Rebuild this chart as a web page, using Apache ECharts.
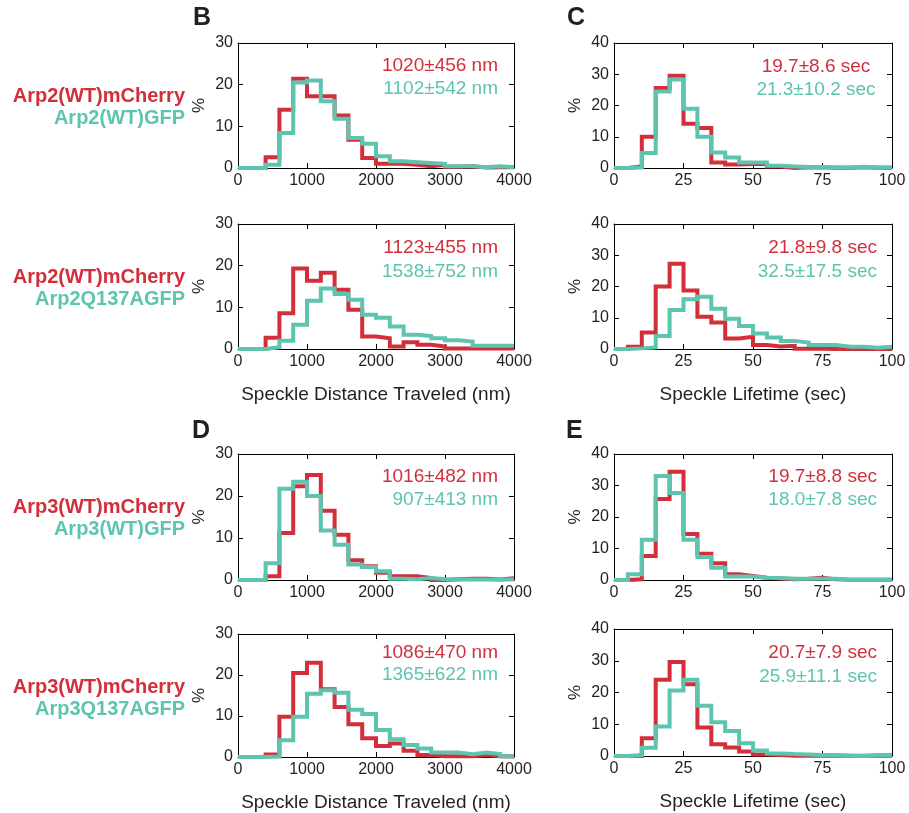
<!DOCTYPE html>
<html>
<head>
<meta charset="utf-8">
<script src="https://cdn.jsdelivr.net/npm/echarts@6/dist/echarts.min.js"></script>
<style>
html,body{margin:0;padding:0;background:#fff;}
#chart{width:909px;height:813px;}
</style>
</head>
<body>
<div id="chart"></div>
<script>
// ---------- data ----------
const distBinStarts = [0,200,400,600,800,1000,1200,1400,1600,1800,2000,2200,2400,2600,2800,3000,3200,3400,3600,3800];
const distEnd = 4000;
const lifeBinStarts = [0,5,10,15,20,25,30,35,40,45,50,55,60,65,70,75,80,85,90,95];
const lifeEnd = 100;
const distTicks = [0,1000,2000,3000,4000];
const lifeTicks = [0,25,50,75,100];

// Panel B top: Arp2(WT)mCherry vs Arp2(WT)GFP, distance (%)
const bTopRed  = [0,0,2.6,14.0,21.4,17.2,17.2,12.6,6.8,2.4,1.0,1.0,0.8,0.4,0.8,0.3,0.4,0.1,0.2,0.2];
const bTopTeal = [0,0,0.8,8.4,20.5,21.0,16.0,11.8,7.2,5.8,2.8,1.6,1.4,1.2,1.0,0.4,0.4,0.2,0.4,0.2];
// Panel C top: lifetime
const cTopRed  = [0,0.5,10.0,25.6,29.5,14.2,12.8,1.8,1.1,1.3,1.3,0.5,0,0.2,0.2,0.1,0.1,0.2,0.1,0.1];
const cTopTeal = [0,0.2,4.8,24.5,28.3,19.0,10.0,5.0,3.4,1.8,1.8,0.7,0.5,0.3,0.3,0.2,0.2,0.4,0.2,0.2];
// Panel B bottom: Arp2(WT)mCherry vs Arp2Q137AGFP, distance
const bBotRed  = [0,0,2.7,8.6,19.3,16.4,18.3,14.2,9.4,3.0,2.6,0.6,1.6,1.0,0.6,0.1,0.1,0.1,0.1,0.1];
const bBotTeal = [0,0,0.4,2.0,5.8,11.6,14.5,13.2,11.8,8.2,7.5,5.4,3.4,3.1,2.6,2.1,1.8,0.8,0.8,0.8];
// Panel C bottom: lifetime
const cBotRed  = [0,0.7,5.3,20.0,27.3,18.7,10.3,8.5,3.4,3.9,1.3,0.8,1.0,0.1,0.1,0,0,0,0,0];
const cBotTeal = [0,0.2,0.5,4.2,12.5,15.9,16.7,12.9,9.7,7.4,5.0,3.7,2.6,2.1,1.3,1.3,0.7,0.7,0.4,0.7];
// Panel D top: Arp3(WT)mCherry vs Arp3(WT)GFP, distance
const dTopRed  = [0,0,0.9,11.2,22.3,25.0,16.5,10.8,4.7,3.3,1.7,0.9,0.9,0.5,0,0.2,0.3,0.3,0.1,0.4];
const dTopTeal = [0,0,4.0,21.7,23.4,20.0,11.8,8.4,3.7,3.1,2.1,0.3,0.2,0.5,0.2,0.1,0.1,0.1,0.1,0.1];
// Panel E top: lifetime
const eTopRed  = [0,0.2,7.6,25.7,34.4,14.6,8.3,5.3,1.8,1.3,0.7,0.5,0.2,0.4,0.7,0.2,0.1,0.1,0.1,0.1];
const eTopTeal = [0,1.8,12.8,33.0,27.6,12.8,7.3,3.9,1.1,1.1,0.7,0.6,0.4,0.4,0.4,0.4,0.1,0.1,0.1,0.1];
// Panel D bottom: Arp3(WT)mCherry vs Arp3Q137AGFP, distance
const dBotRed  = [0,0,0.6,9.8,20.5,23.0,16.5,12.2,8.0,4.6,2.7,3.3,1.5,0.5,0.2,0.2,0.2,0.5,0.2,0.1];
const dBotTeal = [0,0,0.1,4.1,9.8,15.4,16.3,15.7,11.5,10.5,6.6,4.3,2.9,2.1,1.1,1.1,0.7,1.1,0.7,0.2];
// Panel E bottom: lifetime
const eBotRed  = [0,0,5.6,24.0,29.6,22.6,9.0,3.7,2.7,1.4,0.5,0.3,0.1,0.1,0.1,0.1,0.1,0.1,0.1,0.1];
const eBotTeal = [0,0.3,2.6,9.3,20.6,24.0,15.8,10.6,7.9,4.0,1.7,0.8,0.6,0.5,0.3,0.3,0.1,0,0.3,0.3];

const statTexts = [
  ['1020\u00b1456 nm','1102\u00b1542 nm'],
  ['19.7\u00b18.6 sec','21.3\u00b110.2 sec'],
  ['1123\u00b1455 nm','1538\u00b1752 nm'],
  ['21.8\u00b19.8 sec','32.5\u00b117.5 sec'],
  ['1016\u00b1482 nm','907\u00b1413 nm'],
  ['19.7\u00b18.8 sec','18.0\u00b17.8 sec'],
  ['1086\u00b1470 nm','1365\u00b1622 nm'],
  ['20.7\u00b17.9 sec','25.9\u00b111.1 sec']
];
const rowLabels = [
  ['Arp2(WT)mCherry','Arp2(WT)GFP'],
  ['Arp2(WT)mCherry','Arp2Q137AGFP'],
  ['Arp3(WT)mCherry','Arp3(WT)GFP'],
  ['Arp3(WT)mCherry','Arp3Q137AGFP']
];
const panelLetters = ['B','C','D','E'];
const distName = 'Speckle Distance Traveled (nm)';
const lifeName = 'Speckle Lifetime (sec)';

// ---------- layout / style ----------
const RED = '#D22F3B';
const TEAL = '#5CC4AF';
const INK = '#231F20';
const FONT = '"Liberation Sans", Arial, Helvetica, sans-serif';

const panels = [
  {kind:'dist', red:bTopRed, teal:bTopTeal, left:238, top:43,  width:276, height:125, showName:false, sy:[66,89],   sx:498, align:'right'},
  {kind:'life', red:cTopRed, teal:cTopTeal, left:614, top:43,  width:278, height:125, showName:false, sy:[66.5,89.5], sx:816, align:'center'},
  {kind:'dist', red:bBotRed, teal:bBotTeal, left:238, top:224, width:276, height:125, showName:true,  sy:[248,272], sx:498, align:'right'},
  {kind:'life', red:cBotRed, teal:cBotTeal, left:614, top:224, width:278, height:125, showName:true,  sy:[248,272], sx:877, align:'right'},
  {kind:'dist', red:dTopRed, teal:dTopTeal, left:238, top:454, width:276, height:126, showName:false, sy:[477,500], sx:498, align:'right'},
  {kind:'life', red:eTopRed, teal:eTopTeal, left:614, top:454, width:278, height:126, showName:false, sy:[477,500], sx:877, align:'right'},
  {kind:'dist', red:dBotRed, teal:dBotTeal, left:238, top:634, width:276, height:123, showName:true,  sy:[653,675], sx:498, align:'right'},
  {kind:'life', red:eBotRed, teal:eBotTeal, left:614, top:629, width:278, height:127, showName:true,  sy:[653,677], sx:877, align:'right'}
];

function stepData(starts, end, vals) {
  const d = starts.map((s, i) => [s, vals[i]]);
  d.push([end, vals[vals.length - 1]]);
  return d;
}
const plainNum = v => String(v);

const grids = [], xAxes = [], yAxes = [], series = [];
panels.forEach((p, i) => {
  const isDist = p.kind === 'dist';
  const xTicks = isDist ? distTicks : lifeTicks;
  const yMax = isDist ? 30 : 40;
  grids.push({left:p.left, top:p.top, width:p.width, height:p.height, containLabel:false});
  const axisLine = {show:true, onZero:false, lineStyle:{color:'#000', width:1}};
  const tick = {show:true, inside:true, length:5, lineStyle:{color:'#000', width:1}};
  xAxes.push({
    gridIndex:i, type:'value', position:'bottom',
    min:xTicks[0], max:xTicks[xTicks.length-1], interval:xTicks[1]-xTicks[0],
    axisLine, axisTick:tick, splitLine:{show:false},
    axisLabel:{show:true, color:INK, fontSize:16, fontFamily:FONT, margin:5, showMinLabel:true, showMaxLabel:true, formatter:plainNum},
    name: p.showName ? (isDist ? distName : lifeName) : '',
    nameLocation:'middle', nameGap:36,
    nameTextStyle:{color:INK, fontSize:19, fontFamily:FONT}
  });
  xAxes.push({
    gridIndex:i, type:'value', position:'top',
    min:xTicks[0], max:xTicks[xTicks.length-1], interval:xTicks[1]-xTicks[0],
    axisLine, axisTick:tick, splitLine:{show:false}, axisLabel:{show:false}
  });
  yAxes.push({
    gridIndex:i, type:'value', position:'left', min:0, max:yMax, interval:10,
    axisLine, axisTick:tick, splitLine:{show:false},
    axisLabel:{show:true, color:INK, fontSize:16, fontFamily:FONT, margin:5, showMinLabel:true, showMaxLabel:true, formatter:plainNum},
    name:'%', nameLocation:'middle', nameRotate:90, nameGap:30,
    nameTextStyle:{color:INK, fontSize:17, fontFamily:FONT}
  });
  yAxes.push({
    gridIndex:i, type:'value', position:'right', min:0, max:yMax, interval:10,
    axisLine, axisTick:tick, splitLine:{show:false}, axisLabel:{show:false}
  });
  const starts = isDist ? distBinStarts : lifeBinStarts;
  const end = isDist ? distEnd : lifeEnd;
  [[p.red, RED], [p.teal, TEAL]].forEach(([vals, col]) => {
    series.push({
      type:'line', step:'end', xAxisIndex:2*i, yAxisIndex:2*i,
      data: stepData(starts, end, vals),
      symbol:'none', clip:false, silent:true,
      lineStyle:{color:col, width:4, join:'miter', cap:'butt'},
      itemStyle:{color:col}
    });
  });
});

const graphics = [];
panels.forEach((p, i) => {
  graphics.push({type:'text', x:p.sx, y:p.sy[0], silent:true,
    style:{text:statTexts[i][0], fill:RED, font:'19px ' + FONT, textAlign:p.align, textVerticalAlign:'middle'}});
  graphics.push({type:'text', x:p.sx, y:p.sy[1], silent:true,
    style:{text:statTexts[i][1], fill:TEAL, font:'19px ' + FONT, textAlign:p.align, textVerticalAlign:'middle'}});
});
const leftRowTops = [43, 224, 454, 634];
rowLabels.forEach((lab, r) => {
  graphics.push({type:'text', x:185, y:leftRowTops[r] + 53.5, silent:true,
    style:{text:lab[0], fill:RED, font:'bold 20px ' + FONT, textAlign:'right', textVerticalAlign:'middle'}});
  graphics.push({type:'text', x:185, y:leftRowTops[r] + 75.5, silent:true,
    style:{text:lab[1], fill:TEAL, font:'bold 20px ' + FONT, textAlign:'right', textVerticalAlign:'middle'}});
});
const letterPos = [[193,18],[567,18],[192,431],[566,431]];
panelLetters.forEach((L, k) => {
  graphics.push({type:'text', x:letterPos[k][0], y:letterPos[k][1], silent:true,
    style:{text:L, fill:INK, font:'bold 25px ' + FONT, textAlign:'left', textVerticalAlign:'middle'}});
});

const chart = echarts.init(document.getElementById('chart'), null, {renderer:'canvas'});
chart.setOption({
  animation:false,
  backgroundColor:'#fff',
  grid:grids, xAxis:xAxes, yAxis:yAxes, series:series,
  graphic:graphics
});
</script>
</body>
</html>
